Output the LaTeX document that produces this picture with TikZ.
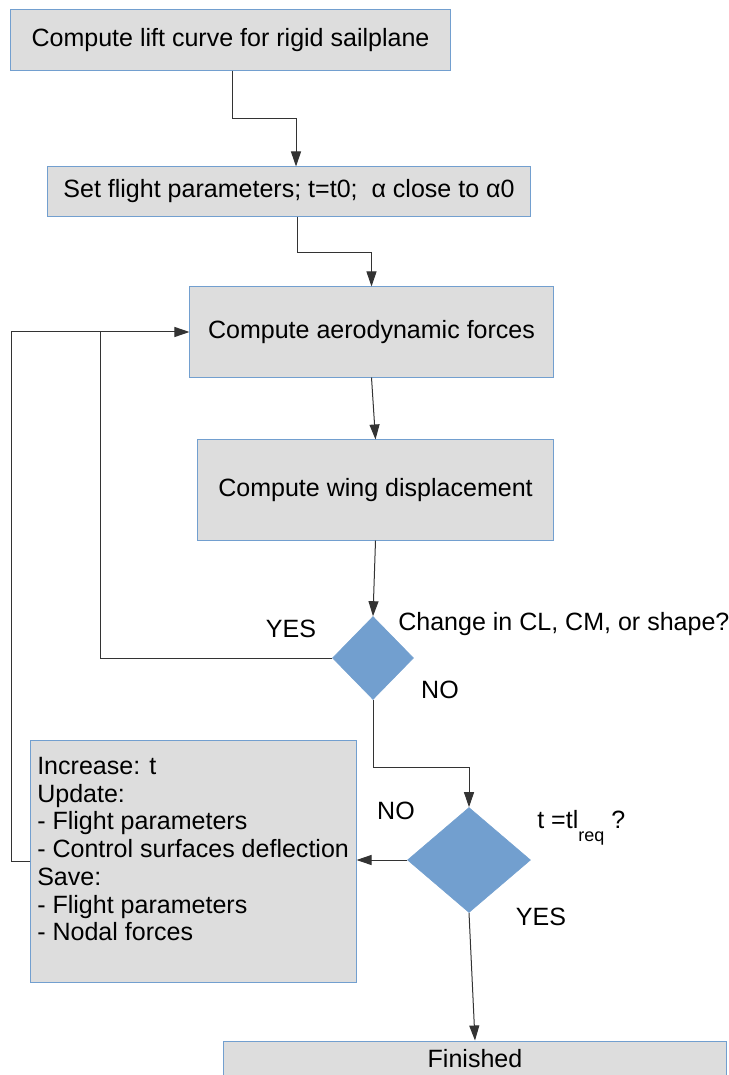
\documentclass[tikz,border=0pt]{standalone}
\usepackage{fontspec}
\setmainfont{Liberation Sans}
\usetikzlibrary{shapes.geometric,arrows.meta}
\definecolor{boxgray}{HTML}{DDDDDD}
\definecolor{boxblue}{HTML}{729FCF}
\tikzset{
  procbox/.style={draw=boxblue,fill=boxgray,line width=0.025cm,inner sep=0pt},
  decision/.style={diamond,draw=boxblue,fill=boxblue,inner sep=0pt},
  tag/.style={inner sep=0pt},
  conn/.style={draw=black!80,line width=0.025cm},
  arr/.style={conn,-{Triangle[length=0.375cm,width=0.25cm]}},
}
\begin{document}
\begin{tikzpicture}[x=0.025cm,y=-0.025cm,font=\fontsize{17.8}{19.7}\selectfont]
  \useasboundingbox (0,0) rectangle (728,1075);
  \clip (0,0) rectangle (728,1075);

  \node[procbox,minimum width=10.975cm,minimum height=1.5cm] (lift) at (230.5,40) {Compute lift curve for rigid sailplane};
  \node[procbox,minimum width=12.05cm,minimum height=1.225cm] (set) at (289,191.5) {Set flight parameters; t=t0;\ \ α close to α0};
  \node[procbox,minimum width=9.075cm,minimum height=2.25cm] (aero) at (371.5,332) {Compute aerodynamic forces};
  \node[procbox,minimum width=8.875cm,minimum height=2.5cm] (wing) at (375.5,490) {Compute wing displacement};
  \node[decision,minimum width=2.025cm,minimum height=2.075cm] (change) at (373,658) {};
  \node[decision,minimum width=3.075cm,minimum height=2.625cm] (tend) at (469,860) {};
  \node[procbox,minimum width=8.125cm,minimum height=6.025cm] (update) at (193.5,861.5) {};
  \node[tag,anchor=north west,align=left] (updtext) at (37,757) {Increase: t\\Update:\\- Flight parameters\\- Control surfaces deflection\\Save:\\- Flight parameters\\- Nodal forces};
  \node[procbox,minimum width=12.55cm,minimum height=0.9cm] (done) at (475,1059) {Finished};

  % labels
  \node[tag] (yes1) at (291,629) {YES};
  \node[tag,anchor=west] (q1) at (398,624) {Change in CL, CM, or shape?};
  \node[tag] (no1) at (440,690) {NO};
  \node[tag] (no2) at (396,811) {NO};
  \node[tag,anchor=west] (q2) at (537,828) {t =tl\raisebox{-0.32cm}{\fontsize{12.8}{12.8}\selectfont req}\ ?};
  \node[tag] (yes2) at (541,917) {YES};

  \coordinate (join) at (100,332);
  \coordinate (outer) at (11,332);

  \draw[arr] ([xshift=0.06cm]lift.south) -- ++(0,48) -| ([xshift=0.175cm]set.north);
  \draw[arr] ([xshift=0.2cm]set.south) -- ++(0,36) -| (aero.north);
  \draw[arr] (aero.south) -- (wing.north);
  \draw[arr] (wing.south) -- (change.north);
  \draw[arr] (change.west) -| (join) -- (aero.west);
  \draw[conn] (update.west) -| (outer) -- (join);
  \draw[arr] (change.south) -- ++(0,68) -| (tend.north);
  \draw[arr] (tend.west) -- (tend.west -| update.east);
  \draw[arr] (tend.south) -- (done.north);
\end{tikzpicture}
\end{document}
